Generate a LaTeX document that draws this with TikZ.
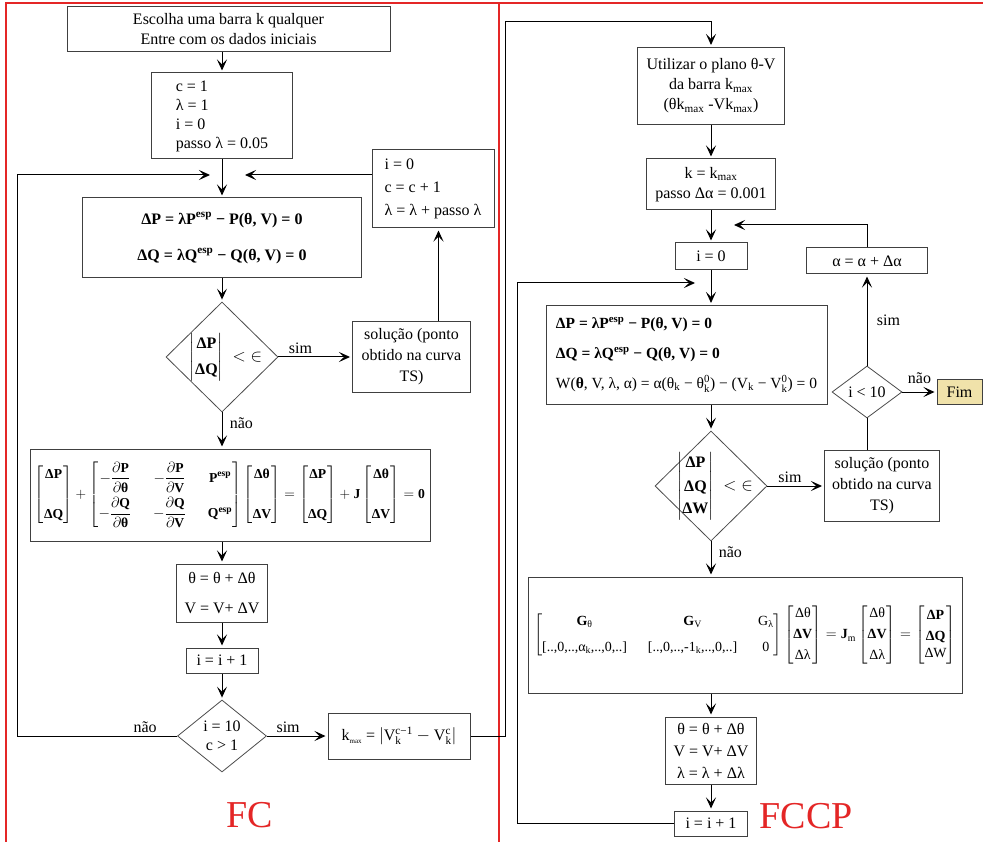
\documentclass[tikz,border=0pt]{standalone}
\usepackage{amsmath,amssymb}
\usepackage{graphicx}
\usepackage{fontspec}
\setmainfont{Liberation Serif}
\usepackage{xcolor}
\usetikzlibrary{shapes.geometric, arrows.meta, positioning, calc}
\definecolor{fimfill}{RGB}{240,226,170}
\definecolor{framered}{RGB}{228,38,38}
\newcommand{\bt}[1]{\text{\bfseries #1}}

\begin{document}
\begin{tikzpicture}[x=1pt, y=-1pt,
    font=\fontsize{16}{20}\selectfont,
    dims/.style 2 args={minimum width=#1pt, minimum height=#2pt},
    box/.style={rectangle, draw=black!75, line width=1pt, inner sep=0pt, align=center},
    cond/.style={diamond, draw=black!70, line width=0.8pt, inner sep=0pt},
    arrow/.style={-{Stealth[length=11pt,width=10pt,inset=5pt]}, line width=1pt, shorten >=2pt},
    line/.style={line width=1pt},
    frame/.style={framered, line width=1.2pt},
    title/.style={text=framered, font=\fontsize{38}{38}\selectfont}
]
\useasboundingbox[fill=white] (0,0) rectangle (983,842);

% red frames of the two flowcharts
\draw[frame] (6,842) -- (6,3) -- (983,3);
\draw[frame] (499,3) -- (499,842);

% FC: continuation flowchart
\node[box, dims={323}{45}] (ini) at (228.5,29) {Escolha uma barra k qualquer\\Entre com os dados iniciais};
\node[box, dims={141}{86}, align=left, font=\fontsize{16}{19}\selectfont] (init) at (222,116) {c = 1\\λ = 1\\i = 0\\passo λ = 0.05};
\node[box, dims={279}{80}, font=\fontsize{16}{20}\selectfont\bfseries] (eqs) at (222,238) {ΔP = λP\textsuperscript{esp} − P(θ, V) = 0\\[16pt]ΔQ = λQ\textsuperscript{esp} − Q(θ, V) = 0};
\node[box, dims={122}{78}, align=left, font=\fontsize{16}{23}\selectfont] (upd) at (433,189) {i = 0\\c = c + 1\\λ = λ + passo λ};
\node[cond, dims={112}{110}] (d1) at (222,357) {};
\node[xshift=4pt] at (d1) {$\begin{vmatrix}\bt{ΔP}\\[6pt] \bt{ΔQ}\end{vmatrix} \;<\; \in$};
\node[box, dims={118}{71}, font=\fontsize{16}{21}\selectfont] (sol1) at (411.5,357) {solução (ponto\\obtido na curva\\TS)};
\node[box, dims={400}{92}] (jac) at (230,495) {\resizebox{390pt}{!}{$\begin{bmatrix}\bt{ΔP}\\[26pt] \bt{ΔQ}\end{bmatrix} + {\setlength\arraycolsep{13pt}\begin{bmatrix} -\dfrac{\partial \bt{P}}{\partial \bt{θ}} & -\dfrac{\partial \bt{P}}{\partial \bt{V}} & \bt{P}^{\bt{esp}}\\[12pt] -\dfrac{\partial \bt{Q}}{\partial \bt{θ}} & -\dfrac{\partial \bt{Q}}{\partial \bt{V}} & \bt{Q}^{\bt{esp}}\end{bmatrix}} \begin{bmatrix}\bt{Δθ}\\[26pt] \bt{ΔV}\end{bmatrix} = \begin{bmatrix}\bt{ΔP}\\[26pt] \bt{ΔQ}\end{bmatrix} + \bt{J}\begin{bmatrix}\bt{Δθ}\\[26pt] \bt{ΔV}\end{bmatrix} = \bt{0}$}};
\node[box, dims={91}{58}] (upd1) at (222,593) {θ = θ + Δθ\\[10pt]V = V+ ΔV};
\node[box, dims={72}{25}] (inc1) at (222,660.5) {i = i + 1};
\node[cond, dims={89}{72}] (d2) at (222,736) {};
\node[align=center, font=\fontsize{16}{19}\selectfont] at (d2) {i = 10\\c > 1};
\node[box, dims={142}{46}] (kmax) at (399,736) {k$_{\text{\scriptsize max}}$ = $\left|\text{V}_{\text{k}}^{\text{c−1}} - \text{V}_{\text{k}}^{\text{c}}\right|$};
\node[title] (fc) at (250,815) {FC};

% FCCP: continuation with parametrisation
\node[box, dims={147}{77}] (plan) at (711,86) {Utilizar o plano θ-V\\da barra k\textsubscript{max}\\(θk\textsubscript{max} -Vk\textsubscript{max})};
\node[box, dims={129}{51}] (kset) at (711,184.5) {k = k\textsubscript{max}\\passo Δα = 0.001};
\node[box, dims={72}{27}] (i0) at (711,256.5) {i = 0};
\node[box, dims={281}{99}, align=left, font=\fontsize{15.5}{30}\selectfont] (eqs2) at (686.5,355) {{\bfseries ΔP = λP\textsuperscript{esp} − P(θ, V) = 0}\\{\bfseries ΔQ = λQ\textsuperscript{esp} − Q(θ, V) = 0}\\W(\textbf{θ}, V, λ, α) = α(θ\textsubscript{k} − θ$_{\text{k}}^{\text{0}}$) − (V\textsubscript{k} − V$_{\text{k}}^{\text{0}}$) = 0};
\node[box, dims={121}{26}] (alpha) at (867,261) {α = α + Δα};
\node[cond, dims={70}{52}] (d3) at (867,392) {};
\node at (d3) {i < 10};
\node[box, fill=fimfill, dims={45}{24}] (fim) at (959.5,392) {Fim};
\node[cond, dims={112}{110}] (d4) at (711,486) {};
\node[xshift=4pt] at (d4) {$\begin{vmatrix}\bt{ΔP}\\[4pt] \bt{ΔQ}\\[2pt] \bt{ΔW}\end{vmatrix} \;<\; \in$};
\node[box, dims={115}{71}, font=\fontsize{16}{21}\selectfont] (sol2) at (882,486) {solução (ponto\\obtido na curva\\TS)};
\node[box, dims={434}{116}] (jac2) at (745,635) {\resizebox{422pt}{!}{$ {\setlength\arraycolsep{12pt}\begin{bmatrix} \bt{G}_{\text{θ}} & \bt{G}_{\text{V}} & \text{G}_{\text{λ}}\\[10pt] \text{[..,0,..,α\textsubscript{k},..,0,..]} & \text{[..,0,..,-1\textsubscript{k},..,0,..]} & \text{0}\end{bmatrix}} \begin{bmatrix}\text{Δθ}\\[4pt] \bt{ΔV}\\[4pt] \text{Δλ}\end{bmatrix} = \bt{J}_{\text{m}} \begin{bmatrix}\text{Δθ}\\[4pt] \bt{ΔV}\\[4pt] \text{Δλ}\end{bmatrix} = \begin{bmatrix}\bt{ΔP}\\[4pt] \bt{ΔQ}\\ \text{ΔW}\end{bmatrix}$}};
\node[box, dims={91}{67}, font=\fontsize{16}{22}\selectfont] (upd2) at (711,750.5) {θ = θ + Δθ\\V = V+ ΔV\\λ = λ + Δλ};
\node[box, dims={73}{25}] (inc2) at (711,823.5) {i = i + 1};
\node[title] (fccp) at (806,816) {FCCP};

% loop junctions
\coordinate (jl) at (212,175);
\coordinate (jr) at (243,175);
\coordinate (lc) at (17,175);
\coordinate (rc) at (505,22);
\coordinate (jr2) at (732,225);
\coordinate (bc) at (517,283);
\coordinate (jl2) at (697,283);

% FC connectors
\draw[arrow] (ini.south -| init.north) -- (init.north);
\draw[arrow] (init) -- (eqs);
\draw[arrow] (upd.west |- jr) -- (jr);
\draw[arrow] (eqs) -- (d1);
\draw[arrow] (d1) -- (sol1) node[pos=0.3, above]{sim};
\draw[arrow] ([xshift=27pt]sol1.north) -- ([xshift=27pt]sol1.north |- upd.south);
\draw[arrow] (d1.south) -- (d1.south |- jac.north) node[pos=0.3, right=4pt]{não};
\draw[arrow] (jac.south -| upd1) -- (upd1);
\draw[arrow] (upd1) -- (inc1);
\draw[arrow] (inc1) -- (d2);
\draw[arrow] (d2.west) -| (lc) node[pos=0.1, above]{não} -- (jl);
\draw[arrow] (d2) -- (kmax) node[pos=0.35, above]{sim};
\draw[arrow] (kmax.east) -| (rc) -| (plan.north);

% FCCP connectors
\draw[arrow] (plan) -- (kset);
\draw[arrow] (kset) -- (i0);
\draw[arrow] (alpha.north) |- (jr2);
\draw[arrow] (i0.south) -- (i0.south |- eqs2.north);
\draw[arrow] (inc2.west) -| (bc) -- (jl2);
\draw[arrow] (eqs2.south -| d4) -- (d4.north);
\draw[arrow] (d4) -- (sol2) node[pos=0.4, above]{sim};
\draw[line] (sol2.north -| d3) -- (d3.south);
\draw[arrow] (d3) -- (alpha) node[midway, right=6pt]{sim};
\draw[arrow] (d3) -- (fim) node[midway, above=5pt]{não};
\draw[arrow] (d4.south) -- (d4.south |- jac2.north) node[pos=0.3, right=4pt]{não};
\draw[arrow] (jac2.south -| upd2) -- (upd2);
\draw[arrow] (upd2) -- (inc2);
\end{tikzpicture}
\end{document}
